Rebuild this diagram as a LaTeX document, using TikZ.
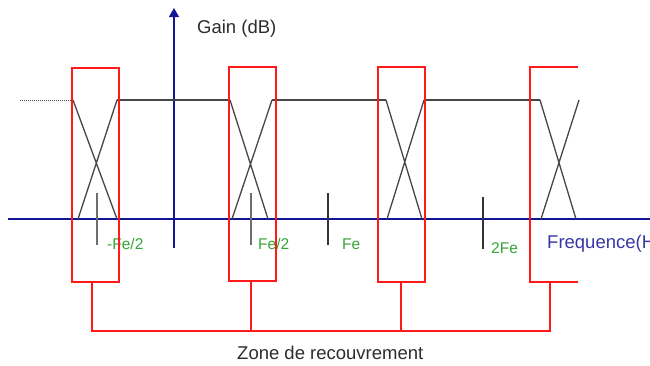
\documentclass[tikz,border=0pt]{standalone}
\usepackage{fontspec}
\setmainfont{Liberation Sans}
\usetikzlibrary{arrows.meta}
\definecolor{axisblue}{RGB}{20,20,150}
\definecolor{boxred}{RGB}{255,25,25}
\definecolor{lblgreen}{RGB}{55,165,55}
\definecolor{curvegray}{RGB}{70,70,70}
\definecolor{tickgray}{RGB}{110,110,110}
\definecolor{txtgray}{RGB}{45,45,45}
\tikzset{
  axisline/.style={draw=axisblue, line width=1.1pt},
  redbox/.style={draw=boxred, line width=1.6pt},
  curve/.style={draw=curvegray, line width=1.3pt},
  tickmark/.style={draw=tickgray, line width=1.3pt},
  greenlbl/.style={text=lblgreen, font=\fontsize{15.5}{18}\selectfont, inner sep=0pt, anchor=base west},
  biglbl/.style={font=\fontsize{18.5}{22}\selectfont, inner sep=0pt},
}
\begin{document}
\begin{tikzpicture}[x=1pt,y=-1pt]
\clip (0,0) rectangle (650,365);
\fill[white] (0,0) rectangle (650,365);
% axes
\coordinate (yb) at (174,248);
\coordinate (yt) at (174,8);
\coordinate (xl) at (8,219);
\coordinate (xr) at (660,219);
\draw[axisline] (xl) -- (xr);
\draw[axisline, -{Triangle[length=9pt,width=10pt]}] (yb) -- (yt);
\node[biglbl, text=txtgray, anchor=base west] (gain) at (197,33) {Gain (dB)};
\node[biglbl, text=axisblue!85!white, anchor=base west] (freq) at (547,248) {Frequence(Hz)};
% gain curve
\coordinate (d0) at (20,100);
\coordinate (a1) at (73,100);  \coordinate (b1) at (117,100);
\coordinate (a1b) at (117,219); \coordinate (b1b) at (78,219);
\coordinate (a2) at (230,100); \coordinate (b2) at (272,100);
\coordinate (a2b) at (268,219); \coordinate (b2b) at (232,219);
\coordinate (a3) at (386,100); \coordinate (b3) at (424,100);
\coordinate (a3b) at (422,219); \coordinate (b3b) at (387,219);
\coordinate (a4) at (540,100); \coordinate (b4) at (579,100);
\coordinate (a4b) at (576,219); \coordinate (b4b) at (541,219);
\draw[draw=curvegray, line width=1pt, densely dotted] (d0) -- (a1);
\draw[curve] (b1) -- (a2) (b2) -- (a3) (b3) -- (a4);
\draw[curve] (a1) -- (a1b) (b1) -- (b1b);
\draw[curve] (a2) -- (a2b) (b2) -- (b2b);
\draw[curve] (a3) -- (a3b) (b3) -- (b3b);
\draw[curve] (a4) -- (a4b) (b4) -- (b4b);
% ticks
\draw[tickmark] (97,193) -- (97,245);
\draw[tickmark] (251,193) -- (251,245);
\draw[tickmark, draw=black!80] (328,193) -- (328,245);
\draw[tickmark, draw=black!80] (483,197) -- (483,249);
% tick labels
\node[greenlbl] (l1) at (107,249) {-Fe/2};
\node[greenlbl] (l2) at (258,249) {Fe/2};
\node[greenlbl] (l3) at (342,249) {Fe};
\node[greenlbl] (l4) at (491,253) {2Fe};
% red boxes
\draw[redbox] (72,68) rectangle (119,282);
\draw[redbox] (229,67) rectangle (276,281);
\draw[redbox] (378,67) rectangle (425,282);
\draw[redbox] (578,67) -- (530,67) -- (530,282) -- (578,282);
% connector
\coordinate (c1) at (92,282);
\coordinate (c2) at (251,281);
\coordinate (c3) at (401,282);
\coordinate (c4) at (550,282);
\draw[redbox] (c1) -- (92,331) -- (550,331) -- (c4);
\draw[redbox] (c2) -- (251,331);
\draw[redbox] (c3) -- (401,331);
\node[biglbl, text=txtgray, anchor=base west] (zone) at (237,359) {Zone de recouvrement};
\end{tikzpicture}
\end{document}
